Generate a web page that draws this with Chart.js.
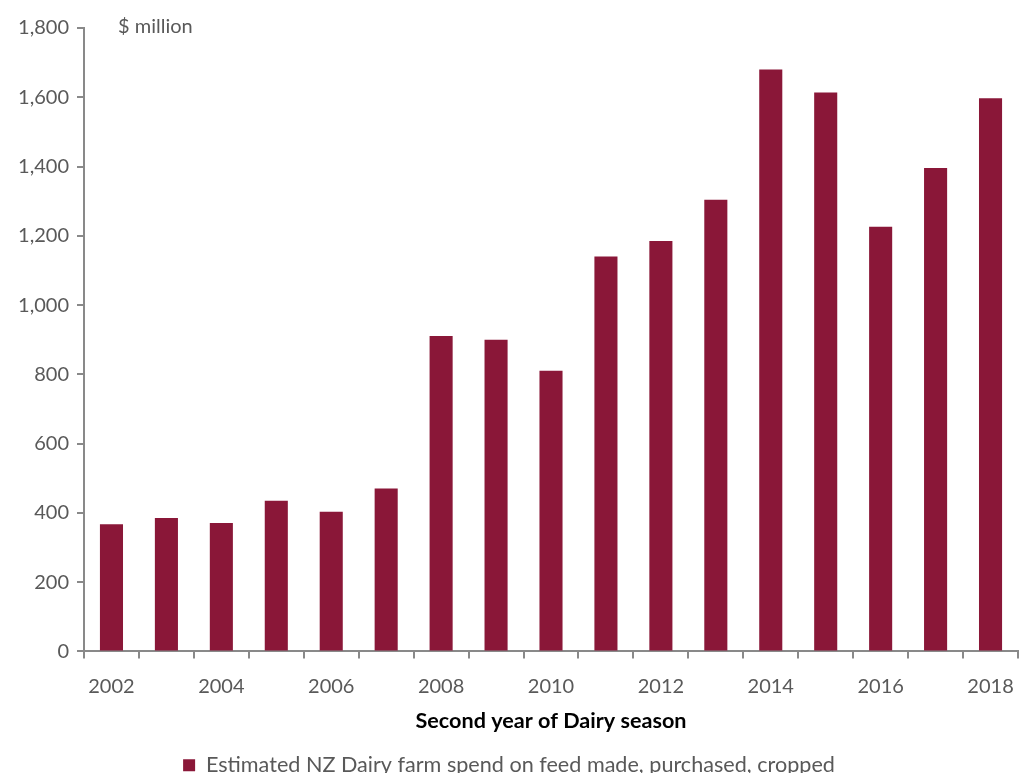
<!DOCTYPE html>
<html>
<head>
<meta charset="utf-8">
<script src="https://cdn.jsdelivr.net/npm/chart.js@4.4.1/dist/chart.umd.min.js"></script>
<style>
  html, body { margin: 0; padding: 0; background: #fff; overflow: hidden; }
  #wrap { width: 1019px; height: 786px; position: relative; }
</style>
</head>
<body>
<div id="wrap"><canvas id="feed"></canvas></div>
<script>
var seasons = ['2002','2003','2004','2005','2006','2007','2008','2009','2010',
               '2011','2012','2013','2014','2015','2016','2017','2018'];
var feed_spend = [367, 385, 371, 435, 403, 470, 911, 900, 810,
                  1140, 1185, 1304, 1680, 1614, 1226, 1396, 1597];

var grey = '#595959';
var axisGrey = '#898989';
Chart.defaults.font.family = 'Lato, "Open Sans", sans-serif';
Chart.defaults.color = grey;

// "$ million" unit note next to the top of the value axis
var unitNote = {
  id: 'unitNote',
  afterDraw: function(chart) {
    var ctx = chart.ctx;
    ctx.save();
    ctx.font = '20px Lato, "Open Sans", sans-serif';
    ctx.fillStyle = grey;
    ctx.textBaseline = 'middle';
    ctx.fillText('$ million', chart.chartArea.left + 34, chart.chartArea.top - 1);
    ctx.restore();
  }
};

var rel = new Chart(document.getElementById('feed'), {
  type: 'bar',
  data: {
    labels: seasons,
    datasets: [{
      label: 'Estimated NZ Dairy farm spend on feed made, purchased, cropped',
      data: feed_spend,
      backgroundColor: '#8a1738',
      borderWidth: 0,
      categoryPercentage: 1,
      barPercentage: 0.42
    }]
  },
  options: {
    responsive: true,
    maintainAspectRatio: false,
    animation: false,
    layout: { padding: { top: 28, right: 1, left: 0, bottom: 0 } },
    plugins: {
      legend: {
        position: 'bottom',
        labels: { boxWidth: 12, boxHeight: 12, padding: 7, font: { size: 21.6 }, color: grey }
      },
      tooltip: { enabled: false }
    },
    scales: {
      x: {
        offset: true,
        grid: { display: true, offset: true, drawOnChartArea: false, tickLength: 7, color: axisGrey, lineWidth: 2 },
        border: { color: axisGrey, width: 2 },
        ticks: {
          autoSkip: false, maxRotation: 0, padding: 16,
          font: { size: 20 }, color: grey,
          callback: function(v, i) { return i % 2 === 0 ? this.getLabelForValue(v) : ''; }
        },
        title: {
          display: true, text: 'Second year of Dairy season',
          font: { size: 21.6, weight: 'bold' }, color: '#000', padding: { top: 4, bottom: 13 }
        },
        afterFit: function(s) { s.height = 96; s.paddingLeft = 0; s.paddingRight = 0; }
      },
      y: {
        min: 0, max: 1800,
        grid: { display: true, drawOnChartArea: false, tickLength: 7, color: axisGrey, lineWidth: 2 },
        border: { color: axisGrey, width: 2 },
        ticks: {
          stepSize: 200, padding: 8, font: { size: 20 }, color: grey,
          callback: function(v) { return v.toLocaleString('en-US'); }
        },
        afterFit: function(s) { s.width = 84; }
      }
    }
  },
  plugins: [unitNote]
});
</script>
</body>
</html>
